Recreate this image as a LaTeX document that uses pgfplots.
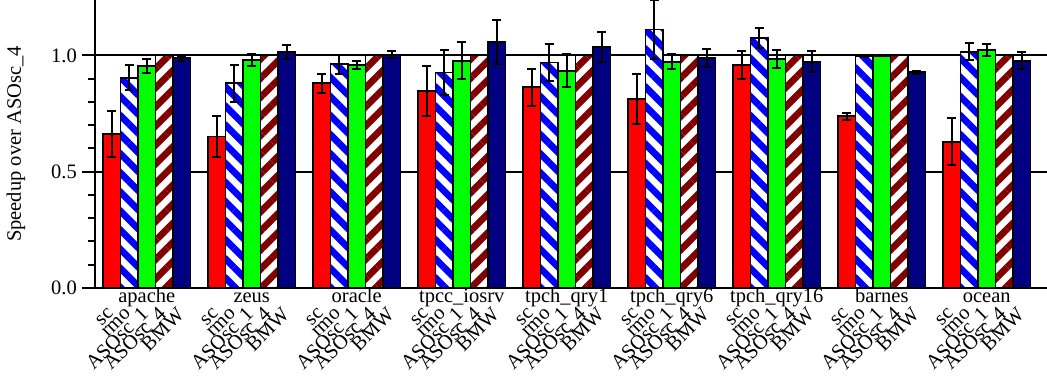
\documentclass[border=0pt]{standalone}
\usepackage{pgfplots}
\pgfplotsset{compat=1.18}
\usepackage{fontspec}
\setmainfont{Liberation Serif}
\usetikzlibrary{patterns.meta}
\definecolor{cred}{RGB}{255,0,0}
\definecolor{cblue}{RGB}{0,0,255}
\definecolor{cgreen}{RGB}{0,255,0}
\definecolor{cdred}{RGB}{128,0,0}
\definecolor{cnavy}{RGB}{0,0,128}
\begin{document}
\begin{tikzpicture}
\pgfplotsset{
  mybar/.style={ybar, bar width=1, bar shift=0pt, draw=black, line width=1.8pt,
    error bars/y dir=both, error bars/y explicit,
    error bars/error bar style={line width=2pt, black, solid},
    error bars/error mark options={rotate=90, mark size=4.5pt, line width=2pt, black}},
}
\begin{axis}[
  at={(0,0)}, anchor=south west,
  scale only axis, width=952pt, height=288pt,
  xmin=-0.457, xmax=53.943, ymin=0, ymax=1.238,
  axis lines*=left,
  axis line style={line width=2pt},
  font=\fontsize{20.5}{24}\selectfont,
  /pgf/number format/assume math mode=true,
  ytick={0,0.5,1.0},
  yticklabels={0.0,0.5,1.0},
  minor y tick num=4,
  tick align=outside,
  major tick length=13pt, minor tick length=6.5pt,
  every tick/.style={line width=2pt, black},
  ymajorgrids, major grid style={line width=2pt, black},
  yticklabel style={inner sep=0pt, xshift=-5pt},
  xtick={0.5,1.5,2.5,3.5,4.5, 6.5,7.5,8.5,9.5,10.5, 12.5,13.5,14.5,15.5,16.5, 18.5,19.5,20.5,21.5,22.5, 24.5,25.5,26.5,27.5,28.5, 30.5,31.5,32.5,33.5,34.5, 36.5,37.5,38.5,39.5,40.5, 42.5,43.5,44.5,45.5,46.5, 48.5,49.5,50.5,51.5,52.5},
  xticklabels={sc,rmo,ASOsc\_1,ASOsc\_4,BMW, sc,rmo,ASOsc\_1,ASOsc\_4,BMW, sc,rmo,ASOsc\_1,ASOsc\_4,BMW, sc,rmo,ASOsc\_1,ASOsc\_4,BMW, sc,rmo,ASOsc\_1,ASOsc\_4,BMW, sc,rmo,ASOsc\_1,ASOsc\_4,BMW, sc,rmo,ASOsc\_1,ASOsc\_4,BMW, sc,rmo,ASOsc\_1,ASOsc\_4,BMW, sc,rmo,ASOsc\_1,ASOsc\_4,BMW},
  x tick style={draw=none},
  xticklabel style={xshift=-1pt, yshift=-10pt, rotate=45, anchor=east, inner sep=0pt},
  ylabel={Speedup over ASOsc\_4},
  ylabel style={at={(axis description cs:-0.083,0.5)}, anchor=center},
  clip=false,
]
\addplot[mybar, fill=cred] table[x=x, y=y, y error=e] {
x y e
0.5 0.661 0.100
6.5 0.651 0.090
12.5 0.880 0.040
18.5 0.848 0.108
24.5 0.863 0.080
30.5 0.811 0.107
36.5 0.957 0.060
42.5 0.739 0.015
48.5 0.629 0.100
};
\addplot[mybar, preaction={fill=white}, pattern={Lines[angle=-45,distance=13.5pt,line width=6.75pt]}, pattern color=cblue] table[x=x, y=y, y error=e] {
x y e
1.5 0.904 0.055
7.5 0.880 0.080
13.5 0.962 0.040
19.5 0.926 0.095
25.5 0.969 0.080
31.5 1.111 0.126
37.5 1.073 0.043
43.5 0.995 0.003
49.5 1.016 0.038
};
\addplot[mybar, fill=cgreen] table[x=x, y=y, y error=e] {
x y e
2.5 0.956 0.030
8.5 0.980 0.025
14.5 0.958 0.018
20.5 0.977 0.080
26.5 0.934 0.070
32.5 0.973 0.033
38.5 0.985 0.038
44.5 0.998 0.002
50.5 1.022 0.025
};
\addplot[ybar, bar width=1, bar shift=0pt, draw=black, line width=1.8pt, preaction={fill=white}, pattern={Lines[angle=45,distance=13.5pt,line width=6.75pt]}, pattern color=cdred] table[x=x, y=y] {
x y
3.5 1.0
9.5 1.0
15.5 1.0
21.5 1.0
27.5 1.0
33.5 1.0
39.5 1.0
45.5 1.0
51.5 1.0
};
\addplot[mybar, fill=cnavy] table[x=x, y=y, y error=e] {
x y e
4.5 0.987 0.012
10.5 1.013 0.030
16.5 1.002 0.015
22.5 1.059 0.095
28.5 1.037 0.065
34.5 0.987 0.039
40.5 0.973 0.045
46.5 0.927 0.005
52.5 0.977 0.037
};
\foreach \g/\n in {0/apache,1/zeus,2/oracle,3/tpcc\_iosrv,4/tpch\_qry1,5/tpch\_qry6,6/tpch\_qry16,7/barnes,8/ocean}{
  \edef\temp{\noexpand\node[anchor=base, inner sep=0pt, yshift=-15pt] at (axis cs:{6*\g+2.5},0) {\n};}
  \temp
}
\end{axis}
\pgfresetboundingbox
\path (-95pt,-89pt) rectangle (952pt,288pt);
\end{tikzpicture}
\end{document}
